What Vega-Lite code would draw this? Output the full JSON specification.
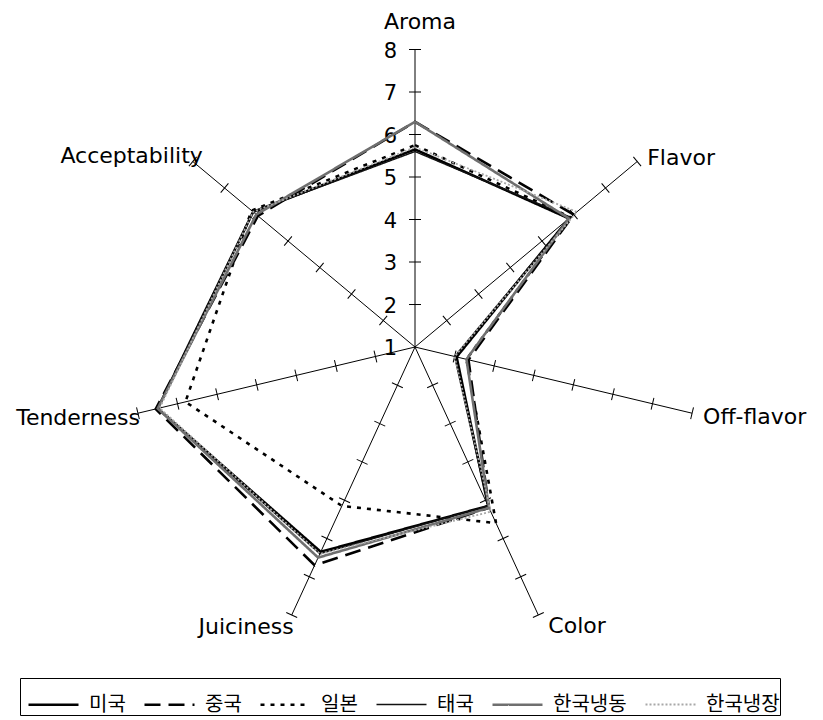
{
  "$schema": "https://vega.github.io/schema/vega-lite/v6.json",
  "width": 823,
  "height": 720,
  "padding": 0,
  "autosize": "none",
  "background": "white",
  "config": {"view": {"stroke": null}},
  "datasets": {
    "spokes": [
      {"attr": "Aroma", "idx": 0, "ticks": [1, 2, 3, 4, 5, 6, 7, 8]},
      {"attr": "Flavor", "idx": 1, "ticks": [1, 2, 3, 4, 5, 6, 7, 8]},
      {"attr": "Off-flavor", "idx": 2, "ticks": [1, 2, 3, 4, 5, 6, 7, 8]},
      {"attr": "Color", "idx": 3, "ticks": [1, 2, 3, 4, 5, 6, 7, 8]},
      {"attr": "Juiciness", "idx": 4, "ticks": [1, 2, 3, 4, 5, 6, 7, 8]},
      {"attr": "Tenderness", "idx": 5, "ticks": [1, 2, 3, 4, 5, 6, 7, 8]},
      {"attr": "Acceptability", "idx": 6, "ticks": [1, 2, 3, 4, 5, 6, 7, 8]}
    ],
    "scores": [
      {"series": "미국", "attr": "Aroma", "value": 5.65},
      {"series": "미국", "attr": "Flavor", "value": 5.85},
      {"series": "미국", "attr": "Off-flavor", "value": 2.05},
      {"series": "미국", "attr": "Color", "value": 5.15},
      {"series": "미국", "attr": "Juiciness", "value": 6.35},
      {"series": "미국", "attr": "Tenderness", "value": 7.5},
      {"series": "미국", "attr": "Acceptability", "value": 6.1},
      {"series": "중국", "attr": "Aroma", "value": 6.3},
      {"series": "중국", "attr": "Flavor", "value": 6.0},
      {"series": "중국", "attr": "Off-flavor", "value": 2.35},
      {"series": "중국", "attr": "Color", "value": 5.2},
      {"series": "중국", "attr": "Juiciness", "value": 6.7},
      {"series": "중국", "attr": "Tenderness", "value": 7.55},
      {"series": "중국", "attr": "Acceptability", "value": 5.95},
      {"series": "일본", "attr": "Aroma", "value": 5.75},
      {"series": "일본", "attr": "Flavor", "value": 5.9},
      {"series": "일본", "attr": "Off-flavor", "value": 2.3},
      {"series": "일본", "attr": "Color", "value": 5.6},
      {"series": "일본", "attr": "Juiciness", "value": 5.15},
      {"series": "일본", "attr": "Tenderness", "value": 6.8},
      {"series": "일본", "attr": "Acceptability", "value": 6.15},
      {"series": "태국", "attr": "Aroma", "value": 5.6},
      {"series": "태국", "attr": "Flavor", "value": 5.9},
      {"series": "태국", "attr": "Off-flavor", "value": 2.0},
      {"series": "태국", "attr": "Color", "value": 5.15},
      {"series": "태국", "attr": "Juiciness", "value": 6.4},
      {"series": "태국", "attr": "Tenderness", "value": 7.5},
      {"series": "태국", "attr": "Acceptability", "value": 6.1},
      {"series": "한국냉동", "attr": "Aroma", "value": 6.3},
      {"series": "한국냉동", "attr": "Flavor", "value": 5.85},
      {"series": "한국냉동", "attr": "Off-flavor", "value": 2.3},
      {"series": "한국냉동", "attr": "Color", "value": 5.2},
      {"series": "한국냉동", "attr": "Juiciness", "value": 6.5},
      {"series": "한국냉동", "attr": "Tenderness", "value": 7.5},
      {"series": "한국냉동", "attr": "Acceptability", "value": 6.0},
      {"series": "한국냉장", "attr": "Aroma", "value": 5.7},
      {"series": "한국냉장", "attr": "Flavor", "value": 6.1},
      {"series": "한국냉장", "attr": "Off-flavor", "value": 2.0},
      {"series": "한국냉장", "attr": "Color", "value": 5.3},
      {"series": "한국냉장", "attr": "Juiciness", "value": 6.4},
      {"series": "한국냉장", "attr": "Tenderness", "value": 7.45},
      {"series": "한국냉장", "attr": "Acceptability", "value": 6.1}
    ]
  },
  "layer": [
    {
      "description": "spokes from the centre (score 1) out to score 8",
      "data": {"name": "spokes"},
      "transform": [
        {"calculate": "datum.idx * 2 * PI / 7", "as": "theta"},
        {"calculate": "0", "as": "cx"},
        {"calculate": "7 * sin(datum.theta)", "as": "ex"},
        {"calculate": "7 * cos(datum.theta)", "as": "ey"}
      ],
      "mark": {"type": "rule", "color": "black", "strokeWidth": 1},
      "encoding": {
        "x": {"field": "cx", "type": "quantitative", "scale": {"domain": [-10.222, 10.049], "nice": false, "zero": false}, "axis": null},
        "y": {"field": "cx", "type": "quantitative", "scale": {"domain": [-8.776, 8.165], "nice": false, "zero": false}, "axis": null},
        "x2": {"field": "ex"},
        "y2": {"field": "ey"}
      }
    },
    {
      "description": "cross ticks at every whole score on each spoke",
      "data": {"name": "spokes"},
      "transform": [
        {"flatten": ["ticks"], "as": ["tick"]},
        {"filter": "datum.tick > 1"},
        {"calculate": "datum.idx * 2 * PI / 7", "as": "theta"},
        {"calculate": "(datum.tick - 1) * sin(datum.theta)", "as": "px"},
        {"calculate": "(datum.tick - 1) * cos(datum.theta)", "as": "py"},
        {"calculate": "atan2(sin(datum.theta) * 40.6, cos(datum.theta) * 42.5) * 180 / PI", "as": "rot"}
      ],
      "mark": {"type": "point", "shape": "M-1,0L1,0", "size": 144, "filled": false, "stroke": "black", "strokeWidth": 1, "opacity": 1},
      "encoding": {
        "x": {"field": "px", "type": "quantitative", "scale": {"domain": [-10.222, 10.049], "nice": false, "zero": false}, "axis": null},
        "y": {"field": "py", "type": "quantitative", "scale": {"domain": [-8.776, 8.165], "nice": false, "zero": false}, "axis": null},
        "angle": {"field": "rot", "type": "quantitative", "scale": null}
      }
    },
    {
      "description": "score labels along the Aroma spoke",
      "data": {"name": "spokes"},
      "transform": [
        {"filter": "datum.idx == 0"},
        {"flatten": ["ticks"], "as": ["tick"]},
        {"calculate": "0", "as": "cx"},
        {"calculate": "datum.tick - 1", "as": "py"}
      ],
      "mark": {"type": "text", "align": "right", "baseline": "middle", "dx": -18, "dy": 2, "font": "DejaVu Sans", "fontSize": 21, "color": "black"},
      "encoding": {
        "x": {"field": "cx", "type": "quantitative", "scale": {"domain": [-10.222, 10.049], "nice": false, "zero": false}, "axis": null},
        "y": {"field": "py", "type": "quantitative", "scale": {"domain": [-8.776, 8.165], "nice": false, "zero": false}, "axis": null},
        "text": {"field": "tick", "type": "quantitative"}
      }
    },
    {
      "description": "one closed outline per origin",
      "data": {"name": "scores"},
      "transform": [
        {"lookup": "attr", "from": {"data": {"name": "spokes"}, "key": "attr", "fields": ["idx"]}},
        {"calculate": "datum.idx * 2 * PI / 7", "as": "theta"},
        {"calculate": "(datum.value - 1) * sin(datum.theta)", "as": "px"},
        {"calculate": "(datum.value - 1) * cos(datum.theta)", "as": "py"}
      ],
      "mark": {"type": "line", "interpolate": "linear-closed", "strokeJoin": "miter"},
      "encoding": {
        "x": {"field": "px", "type": "quantitative", "scale": {"domain": [-10.222, 10.049], "nice": false, "zero": false}, "axis": null},
        "y": {"field": "py", "type": "quantitative", "scale": {"domain": [-8.776, 8.165], "nice": false, "zero": false}, "axis": null},
        "order": {"field": "idx", "type": "quantitative"},
        "color": {
          "field": "series", "type": "nominal",
          "scale": {"domain": ["미국", "중국", "일본", "태국", "한국냉동", "한국냉장"], "range": ["#000000", "#000000", "#000000", "#111111", "#6f6f6f", "#a8a8a8"]},
          "legend": {
            "title": null, "orient": "none", "legendX": 20, "legendY": 678,
            "direction": "horizontal", "columns": 6,
            "symbolType": "stroke", "symbolSize": 2500, "symbolOffset": 7,
            "labelFont": "Noto Sans CJK KR", "labelFontSize": 20, "labelColor": "black",
            "labelOffset": 9, "columnPadding": 10,
            "strokeColor": "black", "padding": 0
          }
        },
        "strokeDash": {
          "field": "series", "type": "nominal",
          "scale": {"domain": ["미국", "중국", "일본", "태국", "한국냉동", "한국냉장"], "range": [[1, 0], [16, 8], [4, 6], [1, 0], [1, 0], [2, 2]]}
        },
        "strokeWidth": {
          "field": "series", "type": "nominal",
          "scale": {"type": "ordinal", "domain": ["미국", "중국", "일본", "태국", "한국냉동", "한국냉장"], "range": [2.6, 2.6, 2.6, 1.4, 2.6, 1.8]}
        }
      }
    },
    {
      "data": {"name": "spokes"},
      "transform": [
        {"filter": "datum.attr == 'Aroma'"},
        {"calculate": "datum.idx * 2 * PI / 7", "as": "theta"},
        {"calculate": "7 * sin(datum.theta)", "as": "ex"},
        {"calculate": "7 * cos(datum.theta)", "as": "ey"}
      ],
      "mark": {"type": "text", "align": "center", "baseline": "middle", "dx": 5, "dy": -28, "font": "DejaVu Sans", "fontSize": 22, "color": "black"},
      "encoding": {
        "x": {"field": "ex", "type": "quantitative", "scale": {"domain": [-10.222, 10.049], "nice": false, "zero": false}, "axis": null},
        "y": {"field": "ey", "type": "quantitative", "scale": {"domain": [-8.776, 8.165], "nice": false, "zero": false}, "axis": null},
        "text": {"field": "attr", "type": "nominal"}
      }
    },
    {
      "data": {"name": "spokes"},
      "transform": [
        {"filter": "datum.attr == 'Flavor'"},
        {"calculate": "datum.idx * 2 * PI / 7", "as": "theta"},
        {"calculate": "7 * sin(datum.theta)", "as": "ex"},
        {"calculate": "7 * cos(datum.theta)", "as": "ey"}
      ],
      "mark": {"type": "text", "align": "left", "baseline": "middle", "dx": 10, "dy": -4, "font": "DejaVu Sans", "fontSize": 22, "color": "black"},
      "encoding": {
        "x": {"field": "ex", "type": "quantitative", "scale": {"domain": [-10.222, 10.049], "nice": false, "zero": false}, "axis": null},
        "y": {"field": "ey", "type": "quantitative", "scale": {"domain": [-8.776, 8.165], "nice": false, "zero": false}, "axis": null},
        "text": {"field": "attr", "type": "nominal"}
      }
    },
    {
      "data": {"name": "spokes"},
      "transform": [
        {"filter": "datum.attr == 'Off-flavor'"},
        {"calculate": "datum.idx * 2 * PI / 7", "as": "theta"},
        {"calculate": "7 * sin(datum.theta)", "as": "ex"},
        {"calculate": "7 * cos(datum.theta)", "as": "ey"}
      ],
      "mark": {"type": "text", "align": "left", "baseline": "middle", "dx": 11, "dy": 4, "font": "DejaVu Sans", "fontSize": 22, "color": "black"},
      "encoding": {
        "x": {"field": "ex", "type": "quantitative", "scale": {"domain": [-10.222, 10.049], "nice": false, "zero": false}, "axis": null},
        "y": {"field": "ey", "type": "quantitative", "scale": {"domain": [-8.776, 8.165], "nice": false, "zero": false}, "axis": null},
        "text": {"field": "attr", "type": "nominal"}
      }
    },
    {
      "data": {"name": "spokes"},
      "transform": [
        {"filter": "datum.attr == 'Color'"},
        {"calculate": "datum.idx * 2 * PI / 7", "as": "theta"},
        {"calculate": "7 * sin(datum.theta)", "as": "ex"},
        {"calculate": "7 * cos(datum.theta)", "as": "ey"}
      ],
      "mark": {"type": "text", "align": "left", "baseline": "middle", "dx": 10, "dy": 11, "font": "DejaVu Sans", "fontSize": 22, "color": "black"},
      "encoding": {
        "x": {"field": "ex", "type": "quantitative", "scale": {"domain": [-10.222, 10.049], "nice": false, "zero": false}, "axis": null},
        "y": {"field": "ey", "type": "quantitative", "scale": {"domain": [-8.776, 8.165], "nice": false, "zero": false}, "axis": null},
        "text": {"field": "attr", "type": "nominal"}
      }
    },
    {
      "data": {"name": "spokes"},
      "transform": [
        {"filter": "datum.attr == 'Juiciness'"},
        {"calculate": "datum.idx * 2 * PI / 7", "as": "theta"},
        {"calculate": "7 * sin(datum.theta)", "as": "ex"},
        {"calculate": "7 * cos(datum.theta)", "as": "ey"}
      ],
      "mark": {"type": "text", "align": "right", "baseline": "middle", "dx": 2, "dy": 12, "font": "DejaVu Sans", "fontSize": 22, "color": "black"},
      "encoding": {
        "x": {"field": "ex", "type": "quantitative", "scale": {"domain": [-10.222, 10.049], "nice": false, "zero": false}, "axis": null},
        "y": {"field": "ey", "type": "quantitative", "scale": {"domain": [-8.776, 8.165], "nice": false, "zero": false}, "axis": null},
        "text": {"field": "attr", "type": "nominal"}
      }
    },
    {
      "data": {"name": "spokes"},
      "transform": [
        {"filter": "datum.attr == 'Tenderness'"},
        {"calculate": "datum.idx * 2 * PI / 7", "as": "theta"},
        {"calculate": "7 * sin(datum.theta)", "as": "ex"},
        {"calculate": "7 * cos(datum.theta)", "as": "ey"}
      ],
      "mark": {"type": "text", "align": "right", "baseline": "middle", "dx": 2, "dy": 5, "font": "DejaVu Sans", "fontSize": 22, "color": "black"},
      "encoding": {
        "x": {"field": "ex", "type": "quantitative", "scale": {"domain": [-10.222, 10.049], "nice": false, "zero": false}, "axis": null},
        "y": {"field": "ey", "type": "quantitative", "scale": {"domain": [-8.776, 8.165], "nice": false, "zero": false}, "axis": null},
        "text": {"field": "attr", "type": "nominal"}
      }
    },
    {
      "data": {"name": "spokes"},
      "transform": [
        {"filter": "datum.attr == 'Acceptability'"},
        {"calculate": "datum.idx * 2 * PI / 7", "as": "theta"},
        {"calculate": "7 * sin(datum.theta)", "as": "ex"},
        {"calculate": "7 * cos(datum.theta)", "as": "ey"}
      ],
      "mark": {"type": "text", "align": "right", "baseline": "middle", "dx": 10, "dy": -6, "font": "DejaVu Sans", "fontSize": 22, "color": "black"},
      "encoding": {
        "x": {"field": "ex", "type": "quantitative", "scale": {"domain": [-10.222, 10.049], "nice": false, "zero": false}, "axis": null},
        "y": {"field": "ey", "type": "quantitative", "scale": {"domain": [-8.776, 8.165], "nice": false, "zero": false}, "axis": null},
        "text": {"field": "attr", "type": "nominal"}
      }
    }
  ]
}
